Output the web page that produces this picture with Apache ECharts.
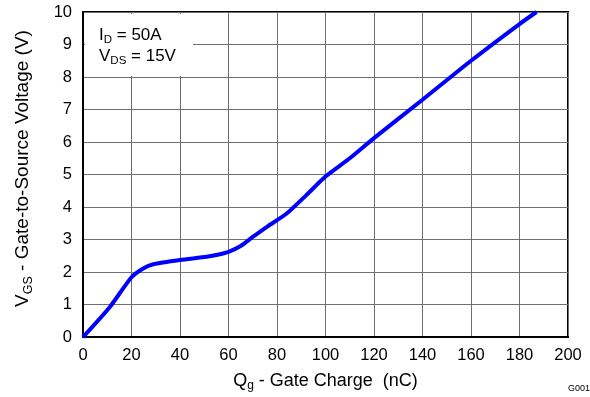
<!DOCTYPE html>
<html>
<head>
<meta charset="utf-8">
<script src="https://cdn.jsdelivr.net/npm/echarts@6/dist/echarts.min.js"></script>
<style>
html,body{margin:0;padding:0;background:#fff;}
#c{width:590px;height:397px;}
</style>
</head>
<body>
<div id="c"></div>
<script>
// Data
var qg  = [0, 11, 20, 25, 29, 40, 51, 56, 60, 65, 70, 76, 84, 92, 100, 110, 120, 140, 160, 180, 187];
var vgs = [0, 0.92, 1.84, 2.12, 2.24, 2.37, 2.47, 2.54, 2.62, 2.8, 3.08, 3.4, 3.8, 4.36, 4.94, 5.5, 6.12, 7.3, 8.5, 9.63, 10];
var xTicks = [0, 20, 40, 60, 80, 100, 120, 140, 160, 180, 200];
var yTicks = [0, 1, 2, 3, 4, 5, 6, 7, 8, 9, 10];

var FONT = "'Liberation Sans', Arial, Helvetica, sans-serif";
var chart = echarts.init(document.getElementById('c'), null, {renderer: 'canvas'});
var pts = qg.map(function (q, i) { return [q, vgs[i]]; });

chart.setOption({
  animation: false,
  backgroundColor: '#ffffff',
  grid: {left: 83, right: 22, top: 12, bottom: 56, show: true, borderColor: '#000', borderWidth: 2, backgroundColor: 'transparent'},
  xAxis: {
    type: 'value', min: xTicks[0], max: xTicks[xTicks.length - 1], interval: 20,
    axisLine: {show: true, lineStyle: {color: '#000', width: 2}},
    axisTick: {show: false},
    splitLine: {show: true, lineStyle: {color: '#707070', width: 1}},
    axisLabel: {color: '#000', fontSize: 16.5, fontFamily: FONT, margin: 10},
    name: '{m|Q}{s|g}{m| - Gate Charge  (nC)}',
    nameLocation: 'middle', nameGap: 29,
    nameTextStyle: {
      fontFamily: FONT,
      rich: {
        m: {fontSize: 18, fontFamily: FONT, color: '#000', lineHeight: 22, verticalAlign: 'middle'},
        s: {fontSize: 12, fontFamily: FONT, color: '#000', lineHeight: 22, verticalAlign: 'bottom', padding: [11, 0, 0, 0]}
      }
    }
  },
  yAxis: {
    type: 'value', min: yTicks[0], max: yTicks[yTicks.length - 1], interval: 1,
    axisLine: {show: true, lineStyle: {color: '#000', width: 2}},
    axisTick: {show: false},
    splitLine: {show: true, lineStyle: {color: '#707070', width: 1}},
    axisLabel: {color: '#000', fontSize: 16.5, fontFamily: FONT, margin: 11}
  },
  series: [{
    type: 'line', data: pts, smooth: 0.2, showSymbol: false,
    lineStyle: {color: '#0000ff', width: 4}, z: 5
  }],
  graphic: [
    {type: 'rect', left: 85, top: 14, shape: {width: 108, height: 62}, style: {fill: '#fff'}, z: 100},
    {type: 'text', left: 99, top: 24, z: 101,
      style: {
        text: '{m|I}{s|D}{m| = 50A}\n{m|V}{s|DS}{m| = 15V}',
        fontFamily: FONT,
        rich: {
          m: {fontSize: 17, fontFamily: FONT, fill: '#000', lineHeight: 21, verticalAlign: 'middle'},
          s: {fontSize: 11.5, fontFamily: FONT, fill: '#000', lineHeight: 21, verticalAlign: 'bottom', padding: [10, 0, 0, 0]}
        }
      }
    },
    {type: 'text', x: 23, y: 168.5, rotation: Math.PI / 2, z: 101,
      style: {
        text: '{m|V}{s|GS}{m| - Gate-to-Source Voltage (V)}',
        fontFamily: FONT, align: 'center', verticalAlign: 'middle',
        rich: {
          m: {fontSize: 19, fontFamily: FONT, fill: '#000', lineHeight: 24, verticalAlign: 'middle'},
          s: {fontSize: 12.5, fontFamily: FONT, fill: '#000', lineHeight: 24, verticalAlign: 'bottom', padding: [12, 0, 0, 0]}
        }
      }
    },
    {type: 'text', left: 568, top: 384, z: 101,
      style: {text: 'G001', fontSize: 9, fontFamily: FONT, fill: '#000'}}
  ]
});
</script>
</body>
</html>
